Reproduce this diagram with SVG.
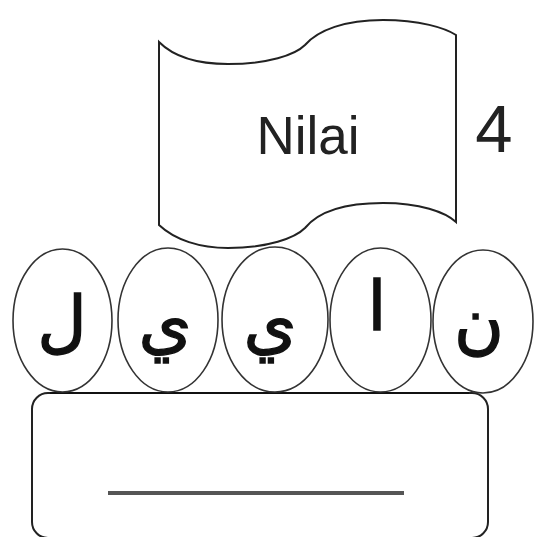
<svg xmlns="http://www.w3.org/2000/svg" width="536" height="537" viewBox="0 0 536 537">
<style>
.ln{fill:none;stroke:#222;stroke-width:2}
.ov{fill:#fff;stroke:#333;stroke-width:1.6}
.ar{font-family:"DejaVu Sans",sans-serif;font-size:68px;fill:#111;stroke:#111;stroke-width:1.4;text-anchor:middle}
.lb{font-family:"Liberation Sans",sans-serif;fill:#222;text-anchor:middle}
</style>
<rect width="536" height="537" fill="#fff"/>
<g id="banner">
<path class="ln" fill="#fff" d="M159,42 C175,58 200,64 228,64 C268,64 295,55 305,45 C318,30 345,20 383,20 C420,20 445,28 456,35 L456,222 C445,212 420,203 383,203 C345,203 318,212 305,228 C295,238 268,248 228,248 C200,248 175,240 159,225 Z"/>
<text class="lb" x="308" y="154" font-size="53">Nilai</text>
</g>
<g id="number">
<text class="lb" x="494" y="152" font-size="67">4</text>
</g>
<g id="answer-box">
<rect class="ln" x="32" y="393" width="456" height="145" rx="16"/>
<line x1="108" y1="493" x2="404" y2="493" stroke="#555" stroke-width="4"/>
</g>
<g id="connectors">
<line x1="50" y1="393" x2="469" y2="393" stroke="#111" stroke-width="2.2"/>
</g>
<g id="letter-lam">
<ellipse class="ov" cx="62.5" cy="320.5" rx="49.5" ry="71.5"/>
<text class="ar" x="62" y="345">ل</text>
</g>
<g id="letter-ya1">
<ellipse class="ov" cx="168" cy="320" rx="50" ry="72"/>
<text class="ar" x="165" y="346">ي</text>
</g>
<g id="letter-ya2">
<ellipse class="ov" cx="275" cy="319.5" rx="53" ry="72.5"/>
<text class="ar" x="270" y="346">ي</text>
</g>
<g id="letter-alif">
<ellipse class="ov" cx="380.5" cy="320" rx="50.5" ry="72"/>
<text class="ar" x="377" y="330">ا</text>
</g>
<g id="letter-nun">
<ellipse class="ov" cx="483" cy="321.5" rx="50" ry="71.5"/>
<text class="ar" x="479" y="346">ن</text>
</g>
</svg>
